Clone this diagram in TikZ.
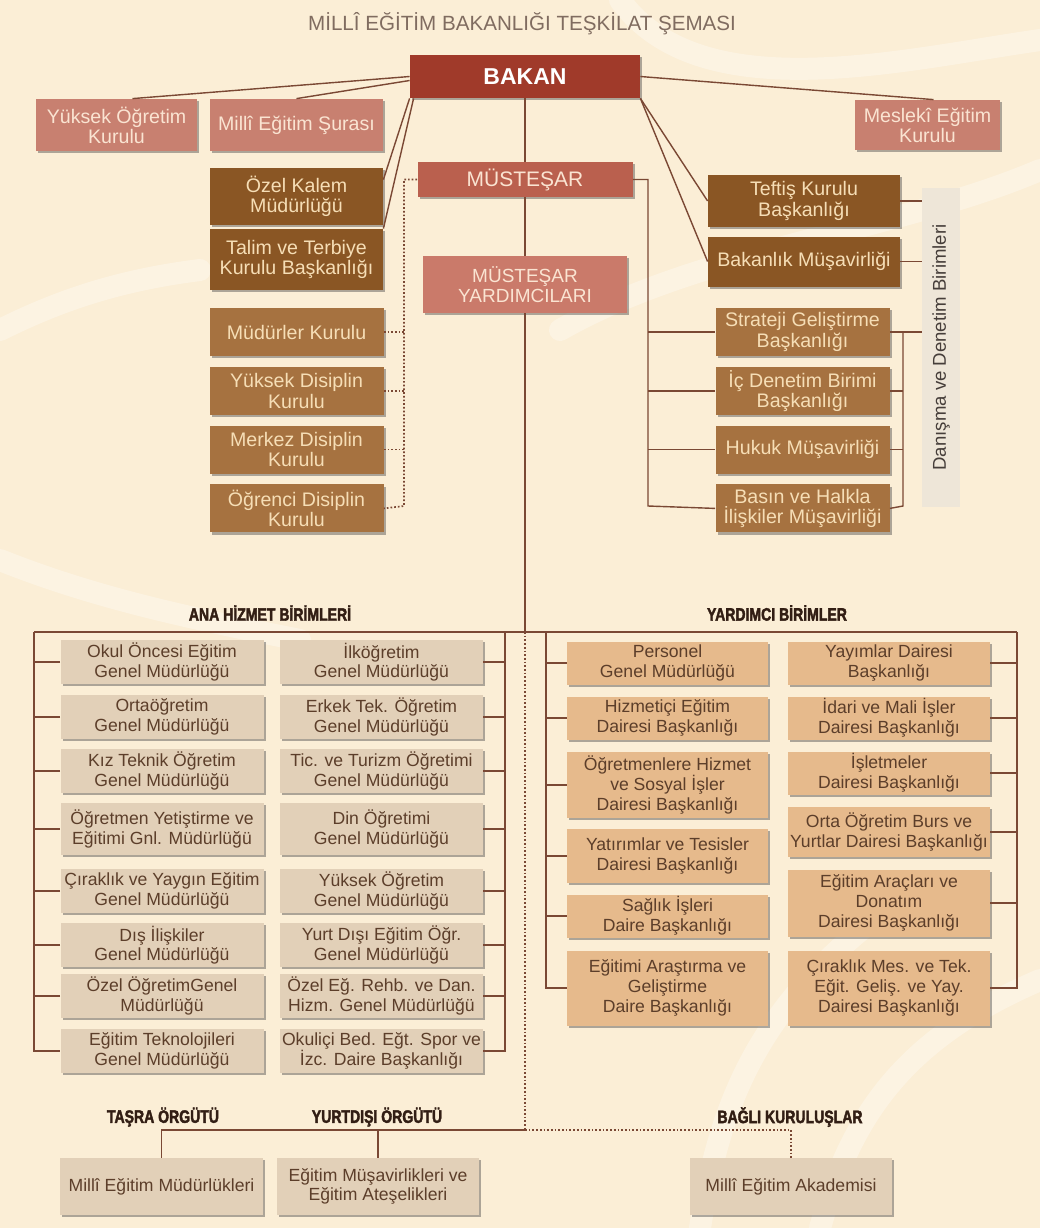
\documentclass[tikz,border=0pt]{standalone}
\usepackage{fontspec}
\setmainfont{Liberation Sans}
\newfontfamily\headfont[FakeStretch=0.78,FakeBold=2.2]{Liberation Sans Bold}
\usepackage{tikz}
\usetikzlibrary{positioning, calc, backgrounds, shadows}
\definecolor{bgcream}{RGB}{251,238,214}
\definecolor{bakanred}{RGB}{160,58,42}
\definecolor{pinkbox}{RGB}{200,128,112}
\definecolor{mustred}{RGB}{186,96,78}
\definecolor{mustpink}{RGB}{202,122,106}
\definecolor{darkbrown}{RGB}{138,86,36}
\definecolor{midbrown}{RGB}{166,114,64}
\definecolor{anafill}{RGB}{226,208,184}
\definecolor{yardfill}{RGB}{230,186,140}
\definecolor{linebrown}{RGB}{122,72,52}
\definecolor{lighttext}{RGB}{250,228,210}
\definecolor{creamtext}{RGB}{246,222,182}
\definecolor{darktext}{RGB}{92,62,42}
\definecolor{titlegray}{RGB}{128,108,96}
\definecolor{headdark}{RGB}{50,30,20}
\definecolor{barfill}{RGB}{238,230,216}
\definecolor{bartext}{RGB}{70,62,58}
\tikzset{
    unit/.style={
        rectangle, inner sep=0pt, align=center,
        drop shadow={shadow xshift=1.2pt, shadow yshift=-1.2pt, opacity=0.45, fill=black!70}
    },
    bakanbox/.style={unit, fill=bakanred, text=white, font=\fontsize{11.5}{12}\selectfont\bfseries},
    topbox/.style={unit, fill=pinkbox, text=lighttext, font=\fontsize{9.8}{10}\selectfont, minimum height=26pt},
    mustbox/.style={unit, fill=mustred, text=lighttext, font=\fontsize{10.5}{11}\selectfont},
    brownbox/.style={unit, fill=darkbrown, text=creamtext, font=\fontsize{9.8}{10.2}\selectfont, minimum width=86.5pt},
    midbox/.style={unit, fill=midbrown, text=creamtext, font=\fontsize{9.8}{10.2}\selectfont, minimum width=87pt, minimum height=24pt},
    anabox/.style={unit, fill=anafill, text=darktext, font=\fontsize{8.8}{9.8}\selectfont, minimum width=101.5pt, minimum height=22pt},
    yardbox/.style={unit, fill=yardfill, text=darktext, font=\fontsize{8.8}{10}\selectfont, minimum width=100.5pt, minimum height=21.5pt},
    sidebar/.style={rectangle, fill=barfill, text=bartext, inner sep=0pt, font=\fontsize{9.3}{10}\selectfont},
    titletext/.style={text=titlegray, font=\fontsize{10.3}{11}\selectfont},
    heading/.style={text=headdark, font=\headfont\fontsize{9}{10}\selectfont},
    conn/.style={draw=linebrown, line width=0.7pt},
    dotconn/.style={conn, line width=0.85pt, densely dotted},
    swirl/.style={draw=white, opacity=0.3, line width=11pt, line cap=round}
}

\begin{document}
\begin{tikzpicture}[x=0.5pt, y=-0.5pt]

% Background
\useasboundingbox (0,0) rectangle (1040,1228);
\fill[bgcream] (0,0) rectangle (1040,1228);
\begin{scope}
\draw[swirl] (620,0) .. controls (700,110) and (900,60) .. (1040,40);
\draw[swirl] (560,330) .. controls (700,250) and (900,230) .. (1040,170);
\draw[swirl] (0,330) .. controls (60,300) and (120,280) .. (200,270);
\draw[swirl] (0,560) .. controls (100,600) and (200,620) .. (300,640);
\draw[swirl] (700,1228) .. controls (720,1100) and (760,1000) .. (900,900);
\draw[swirl] (820,1228) .. controls (850,1120) and (900,1040) .. (1040,980);
\end{scope}

% Title
\node[titletext] (title) at (522,24) {MİLLÎ EĞİTİM BAKANLIĞI TEŞKİLAT ŞEMASI};

% Minister and boards
\node[bakanbox, minimum width=115pt, minimum height=21.5pt] (bakan) at (525,76.5) {BAKAN};
\node[topbox, minimum width=80.5pt] (yok) at (116.5,125) {Yüksek Öğretim\\Kurulu};
\node[topbox, minimum width=86.5pt] (sura) at (296.5,125) {Millî Eğitim Şurası};
\node[topbox, minimum width=72.5pt, minimum height=25pt] (mesleki) at (927.5,125) {Meslekî Eğitim\\Kurulu};

% Undersecretary
\node[mustbox, minimum width=107.5pt, minimum height=17.5pt] (mustesar) at (525,179.5) {MÜSTEŞAR};
\node[mustbox, fill=mustpink, font=\fontsize{9.5}{10}\selectfont, minimum width=102pt, minimum height=28.5pt] (yardimci) at (525,284.5) {MÜSTEŞAR\\YARDIMCILARI};

% Left units
\node[brownbox, minimum height=28.5pt] (ozelkalem) at (296.5,196.5) {Özel Kalem\\Müdürlüğü};
\node[brownbox, minimum height=30.5pt] (talim) at (296.5,259.5) {Talim ve Terbiye\\Kurulu Başkanlığı};
\node[midbox] (mudurler) at (296.5,332) {Müdürler Kurulu};
\node[midbox, below=5pt of mudurler] (yuksekdis) {Yüksek Disiplin\\Kurulu};
\node[midbox, below=5pt of yuksekdis] (merkezdis) {Merkez Disiplin\\Kurulu};
\node[midbox, below=5pt of merkezdis] (ogrencidis) {Öğrenci Disiplin\\Kurulu};

% Right units
\node[brownbox, minimum width=96pt, minimum height=26pt] (teftis) at (804,201) {Teftiş Kurulu\\Başkanlığı};
\node[brownbox, minimum width=96pt, minimum height=25pt] (bakmus) at (804,261.5) {Bakanlık Müşavirliği};
\node[midbox] (strateji) at (802.5,332) {Strateji Geliştirme\\Başkanlığı};
\node[midbox, below=5pt of strateji] (icdenetim) {İç Denetim Birimi\\Başkanlığı};
\node[midbox, below=5pt of icdenetim] (hukuk) {Hukuk Müşavirliği};
\node[midbox, below=5pt of hukuk] (basin) {Basın ve Halkla\\İlişkiler Müşavirliği};
\node[sidebar, rotate=90, minimum width=159.5pt, minimum height=19pt] (danisma) at (941,347.5) {Danışma ve Denetim Birimleri};

% Connections (top)
\draw[conn] (bakan.west) -- ([xshift=8pt]yok.north);
\draw[conn] ([yshift=-2pt]bakan.west) -- (sura.north);
\draw[conn] (bakan.east) -- ([xshift=3pt]mesleki.north);
\draw[conn] (bakan.south west) -- ([yshift=-6pt]ozelkalem.north east);
\draw[conn] ([xshift=2pt]bakan.south west) -- (talim.north east);
\draw[conn] (bakan.south east) -- (teftis.west);
\draw[conn] (bakan.south east) -- (bakmus.west);
\draw[conn] (bakan.south) -- (mustesar.north);
\draw[conn] (mustesar.south) -- (yardimci.north);

% Dotted bus to boards
\coordinate (dotbus) at (404,506);
\draw[dotconn] (mustesar.west) -| (dotbus) -- (ogrencidis.east);
\draw[dotconn] (mudurler.east) -- (mudurler.east -| dotbus);
\draw[dotconn] (yuksekdis.east) -- (yuksekdis.east -| dotbus);
\draw[dotconn] (merkezdis.east) -- (merkezdis.east -| dotbus);

% Right bus
\coordinate (rbus) at (648,506);
\draw[conn] (mustesar.east) -| (rbus) -- (basin.west);
\draw[conn] (strateji.west -| rbus) -- (strateji.west);
\draw[conn] (icdenetim.west -| rbus) -- (icdenetim.west);
\draw[conn] (hukuk.west -| rbus) -- (hukuk.west);
\coordinate (dbus) at (903,506);
\draw[conn] (teftis.east) -- (teftis.east -| danisma.north);
\draw[conn] (bakmus.east) -- (bakmus.east -| danisma.north);
\draw[conn] (strateji.east) -- (strateji.east -| danisma.north);
\draw[conn] (strateji.east -| dbus) -- (dbus) -- (basin.east);
\draw[conn] (icdenetim.east) -- (icdenetim.east -| dbus);
\draw[conn] (hukuk.east) -- (hukuk.east -| dbus);

% Main service units
\node[heading] (anahead) at (270,613) {ANA HİZMET BİRİMLERİ};
\node[anabox] (okuloncesi) at (162,662) {Okul Öncesi Eğitim\\Genel Müdürlüğü};
\node[anabox] (ortaogretim) at (162,717) {Ortaöğretim\\Genel Müdürlüğü};
\node[anabox] (kizteknik) at (162,771) {Kız Teknik Öğretim\\Genel Müdürlüğü};
\node[anabox, minimum height=26pt] (ogretmenyet) at (162,829) {Öğretmen Yetiştirme ve\\Eğitimi Gnl. Müdürlüğü};
\node[anabox] (ciraklik) at (162,891) {Çıraklık ve Yaygın Eğitim\\Genel Müdürlüğü};
\node[anabox] (disiliskiler) at (162,945) {Dış İlişkiler\\Genel Müdürlüğü};
\node[anabox] (ozelogretim) at (162,996) {Özel ÖğretimGenel\\Müdürlüğü};
\node[anabox] (egitimtek) at (162,1051) {Eğitim Teknolojileri\\Genel Müdürlüğü};
\node[anabox] (ilkogretim) at (381.5,662) {İlköğretim\\Genel Müdürlüğü};
\node[anabox] (erkektek) at (381.5,717) {Erkek Tek. Öğretim\\Genel Müdürlüğü};
\node[anabox] (ticturizm) at (381.5,771) {Tic. ve Turizm Öğretimi\\Genel Müdürlüğü};
\node[anabox, minimum height=26pt] (dinogretimi) at (381.5,829) {Din Öğretimi\\Genel Müdürlüğü};
\node[anabox] (yuksekogretim) at (381.5,891) {Yüksek Öğretim\\Genel Müdürlüğü};
\node[anabox] (yurtdisi) at (381.5,945) {Yurt Dışı Eğitim Öğr.\\Genel Müdürlüğü};
\node[anabox] (ozelegitim) at (381.5,996) {Özel Eğ. Rehb. ve Dan.\\Hizm. Genel Müdürlüğü};
\node[anabox] (okulici) at (381.5,1051) {Okuliçi Bed. Eğt. Spor ve\\İzc. Daire Başkanlığı};

% Auxiliary units
\node[heading] (yardhead) at (777,613) {YARDIMCI BİRİMLER};
\node[yardbox] (personel) at (667.5,663) {Personel\\Genel Müdürlüğü};
\node[yardbox] (hizmetici) at (667.5,718) {Hizmetiçi Eğitim\\Dairesi Başkanlığı};
\node[yardbox, minimum height=33pt] (ogretmenhiz) at (667.5,785) {Öğretmenlere Hizmet\\ve Sosyal İşler\\Dairesi Başkanlığı};
\node[yardbox, minimum height=27pt] (yatirimlar) at (667.5,856) {Yatırımlar ve Tesisler\\Dairesi Başkanlığı};
\node[yardbox] (saglik) at (667.5,916) {Sağlık İşleri\\Daire Başkanlığı};
\node[yardbox, minimum height=37.5pt] (arastirma) at (667.5,988) {Eğitimi Araştırma ve\\Geliştirme\\Daire Başkanlığı};
\node[yardbox, minimum width=101pt] (yayimlar) at (889,663) {Yayımlar Dairesi\\Başkanlığı};
\node[yardbox, minimum width=101pt] (idari) at (889,718) {İdari ve Mali İşler\\Dairesi Başkanlığı};
\node[yardbox, minimum width=101pt] (isletmeler) at (889,773) {İşletmeler\\Dairesi Başkanlığı};
\node[yardbox, minimum width=101pt, minimum height=25pt] (ortaburs) at (889,832) {Orta Öğretim Burs ve\\Yurtlar Dairesi Başkanlığı};
\node[yardbox, minimum width=101pt, minimum height=33.5pt] (araclar) at (889,903) {Eğitim Araçları ve\\Donatım\\Dairesi Başkanlığı};
\node[yardbox, minimum width=101pt, minimum height=37.5pt] (ciraklikmes) at (889,988) {Çıraklık Mes. ve Tek.\\Eğit. Geliş. ve Yay.\\Dairesi Başkanlığı};

% Lower buses
\coordinate (hub) at (525,632);
\coordinate (anaL) at (34,632);
\coordinate (anaR) at (505,632);
\coordinate (yarL) at (546,632);
\coordinate (yarR) at (1017,632);
\draw[conn] (yardimci.south) -- (hub);
\draw[conn] (anaL) -- (yarR);
\draw[conn] (anaL) |- (egitimtek.west);
\draw[conn] (anaR) |- (okulici.east);
\draw[conn] (yarL) |- (arastirma.west);
\draw[conn] (yarR) |- (ciraklikmes.east);
\draw[conn] (okuloncesi.west) -- (okuloncesi.west -| anaL);
\draw[conn] (ortaogretim.west) -- (ortaogretim.west -| anaL);
\draw[conn] (kizteknik.west) -- (kizteknik.west -| anaL);
\draw[conn] (ogretmenyet.west) -- (ogretmenyet.west -| anaL);
\draw[conn] (ciraklik.west) -- (ciraklik.west -| anaL);
\draw[conn] (disiliskiler.west) -- (disiliskiler.west -| anaL);
\draw[conn] (ozelogretim.west) -- (ozelogretim.west -| anaL);
\draw[conn] (ilkogretim.east) -- (ilkogretim.east -| anaR);
\draw[conn] (erkektek.east) -- (erkektek.east -| anaR);
\draw[conn] (ticturizm.east) -- (ticturizm.east -| anaR);
\draw[conn] (dinogretimi.east) -- (dinogretimi.east -| anaR);
\draw[conn] (yuksekogretim.east) -- (yuksekogretim.east -| anaR);
\draw[conn] (yurtdisi.east) -- (yurtdisi.east -| anaR);
\draw[conn] (ozelegitim.east) -- (ozelegitim.east -| anaR);
\draw[conn] (personel.west) -- (personel.west -| yarL);
\draw[conn] (hizmetici.west) -- (hizmetici.west -| yarL);
\draw[conn] (ogretmenhiz.west) -- (ogretmenhiz.west -| yarL);
\draw[conn] (yatirimlar.west) -- (yatirimlar.west -| yarL);
\draw[conn] (saglik.west) -- (saglik.west -| yarL);
\draw[conn] (yayimlar.east) -- (yayimlar.east -| yarR);
\draw[conn] (idari.east) -- (idari.east -| yarR);
\draw[conn] (isletmeler.east) -- (isletmeler.east -| yarR);
\draw[conn] (ortaburs.east) -- (ortaburs.east -| yarR);
\draw[conn] (araclar.east) -- (araclar.east -| yarR);

% Provincial, abroad and affiliated
\node[heading] (tasrahead) at (163,1117) {TAŞRA ÖRGÜTÜ};
\node[heading] (yurtdisihead) at (377,1117) {YURTDIŞI ÖRGÜTÜ};
\node[heading] (baglihead) at (790,1117) {BAĞLI KURULUŞLAR};
\node[anabox, minimum height=28.5pt] (mem) at (161.5,1186.5) {Millî Eğitim Müdürlükleri};
\node[anabox, minimum width=101pt, minimum height=28.5pt] (musavir) at (378,1186.5) {Eğitim Müşavirlikleri ve\\Eğitim Ateşelikleri};
\node[anabox, minimum width=101pt, minimum height=28.5pt] (akademi) at (791,1186.5) {Millî Eğitim Akademisi};
\coordinate (bus) at (525,1130);
\draw[dotconn] (hub) -- (bus);
\draw[conn] (bus) -| (mem.north);
\draw[conn] (musavir.north) -- (musavir.north |- bus);
\draw[dotconn] (bus) -| (akademi.north);

\end{tikzpicture}
\end{document}
